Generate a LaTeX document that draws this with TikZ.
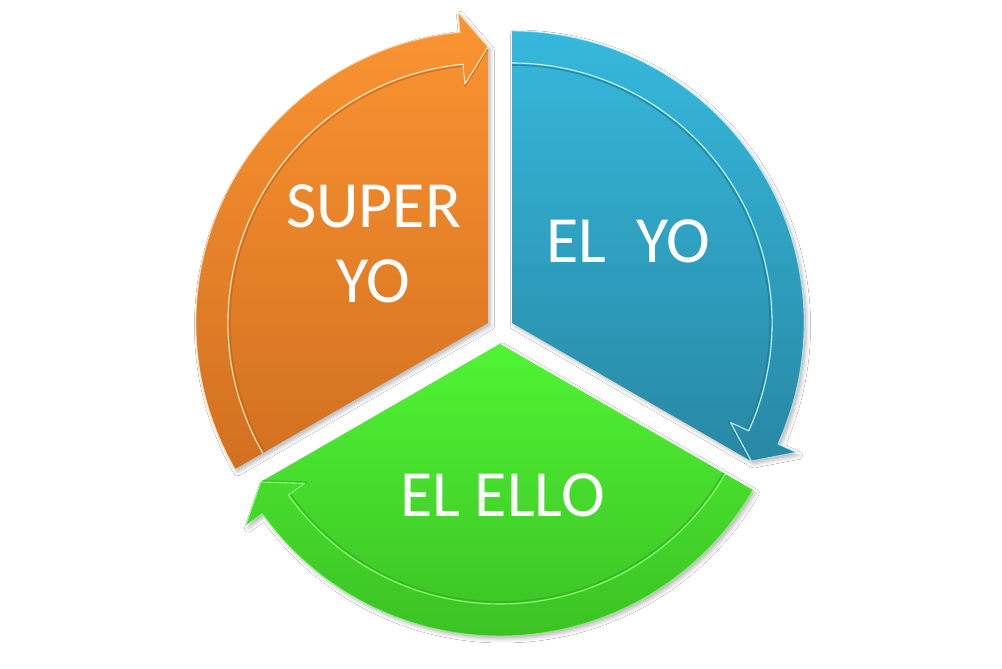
\documentclass[tikz,border=0pt]{standalone}
\usepackage{fontspec}
\newfontfamily\labelfont{Carlito}
\usetikzlibrary{shadows.blur}
\definecolor{orTop}{RGB}{251,148,50}
\definecolor{orBot}{RGB}{210,112,32}
\definecolor{orHi}{RGB}{255,232,190}
\definecolor{orSh}{RGB}{190,100,30}
\definecolor{blTop}{RGB}{54,184,220}
\definecolor{blBot}{RGB}{40,136,164}
\definecolor{blHi}{RGB}{190,245,255}
\definecolor{blSh}{RGB}{30,115,140}
\definecolor{grTop}{RGB}{80,244,52}
\definecolor{grBot}{RGB}{60,194,36}
\definecolor{grHi}{RGB}{140,255,120}
\definecolor{grSh}{RGB}{50,170,30}
\def\Rout{292}
\def\Rin{260}
\def\Rmid{276}
\def\Rhout{312}
\def\Rhin{240}
\def\hd{5.5}
\tikzset{
  segbody/.style={blur shadow={shadow xshift=2.5pt, shadow yshift=-3pt, shadow opacity=28, shadow blur radius=4pt}},
  bandline/.style={line width=1.1pt, line join=round},
  bandshadow/.style={line width=1.6pt, line join=round, opacity=0.6},
  rim/.style={line width=0.9pt, line join=round},
  label/.style={text=white, font=\labelfont\fontsize{66}{75}\selectfont, inner sep=0pt}
}
% #1 centre, #2 start angle, #3 end angle, #4 top colour, #5 bottom colour, #6 highlight, #7 shade
\newcommand\cycleseg[7]{%
  \begin{scope}[shift={#1}]
    \path[segbody, top color=#4, bottom color=#5]
      (0,0) -- (#2:\Rout) arc[start angle=#2, end angle=#3+\hd, radius=\Rout]
      -- ({#3+\hd}:\Rhout) -- (#3:\Rmid) -- cycle;
    \draw[rim, draw=#6, opacity=0.7]
      (#2:\Rout) arc[start angle=#2, end angle=#3+\hd, radius=\Rout]
      -- ({#3+\hd}:\Rhout) -- (#3:\Rmid);
    \draw[bandshadow, draw=#7]
      ([shift={(#2:-2)}]#2:\Rin) arc[start angle=#2, end angle=#3+\hd, radius=\Rin-2]
      -- ({#3+\hd}:\Rhin-2) -- (#3:\Rmid-2);
    \draw[bandline, draw=#6]
      (#2:\Rin) arc[start angle=#2, end angle=#3+\hd, radius=\Rin]
      -- ({#3+\hd}:\Rhin) -- (#3:\Rmid);
  \end{scope}}
\begin{document}
\begin{tikzpicture}[x=1pt, y=1pt]
  \useasboundingbox (0,0) rectangle (1002,669);
  \fill[white] (0,0) rectangle (1002,669);
  \coordinate (co) at (487.9,346);
  \coordinate (cb) at (512.1,346);
  \coordinate (cg) at (500,325);
  \cycleseg{(co)}{210}{90}{orTop}{orBot}{orHi}{orSh}
  \cycleseg{(cb)}{90}{-30}{blTop}{blBot}{blHi}{blSh}
  \cycleseg{(cg)}{-30}{-150}{grTop}{grBot}{grHi}{grSh}
  \node[label, align=center, anchor=center] (superyo) at (373.5,425.5) {SUPER\\YO};
  \node[label, anchor=base] (elyo) at (628.5,406) {EL\ \ YO};
  \node[label, anchor=base] (elello) at (502.5,152) {EL ELLO};
\end{tikzpicture}
\end{document}
